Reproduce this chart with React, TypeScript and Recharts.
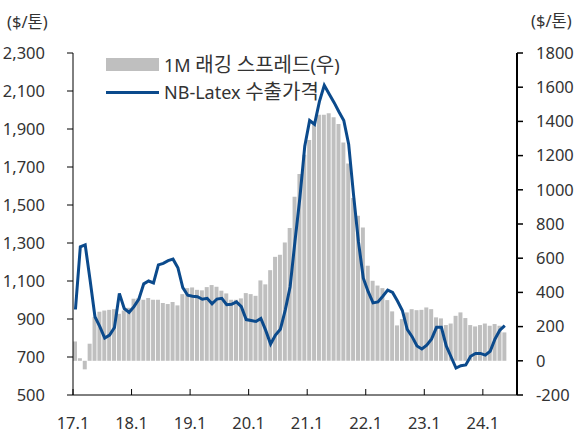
import React from 'react';
import { ComposedChart, Bar, Line, XAxis, YAxis } from 'recharts';

// 2017.01 ~ 2024.05 monthly
const months: string[] = (() => {
  const out: string[] = [];
  for (let y = 17; y <= 24; y++) {
    for (let m = 1; m <= 12; m++) {
      if (y === 24 && m > 5) break;
      out.push(`${y}.${m}`);
    }
  }
  return out;
})();

// 1M lagging spread (right axis, $/톤)
const spread: number[] = [
  113, 15, -50, 100, 255, 287, 294, 298, 302, 275, 294, 310,
  363, 367, 357, 367, 357, 357, 338, 332, 344, 324, 390, 425,
  429, 415, 412, 431, 443, 433, 410, 394, 357, 357, 365, 396,
  390, 380, 470, 447, 530, 608, 620, 692, 777, 959, 1092, 1205,
  1291, 1385, 1439, 1439, 1447, 1424, 1385, 1277, 1154, 952, 848, 780,
  556, 468, 440, 425, 355, 289, 207, 244, 283, 302, 296, 298,
  312, 302, 254, 248, 209, 218, 263, 283, 250, 209, 201, 209,
  218, 205, 215, 205, 166,
];

// NB-Latex export price (left axis, $/톤)
const price: number[] = [
  950, 1280, 1290, 1105, 912, 860, 800, 815, 855, 1035, 955, 935,
  965, 1005, 1085, 1100, 1090, 1185, 1193, 1207, 1215, 1170, 1065, 1025,
  1020, 1017, 1004, 1009, 980, 1005, 1009, 975, 977, 990, 965, 897,
  892, 887, 903, 840, 768, 815, 846, 947, 1070, 1310, 1538, 1810,
  1945, 1925, 2044, 2130, 2084, 2040, 1991, 1945, 1820, 1553, 1307, 1115,
  1044, 985, 990, 1020, 1052, 1040, 995, 945, 845, 807, 758, 742,
  762, 795, 856, 856, 758, 700, 642, 654, 658, 704, 719, 719,
  710, 730, 795, 842, 865,
];

const xTickLabels: string[] = ['17.1', '18.1', '19.1', '20.1', '21.1', '22.1', '23.1', '24.1'];
const xTickPositions: number[] = [0, 12, 24, 36, 48, 60, 72, 84];
const leftTicks: number[] = [500, 700, 900, 1100, 1300, 1500, 1700, 1900, 2100, 2300];
const rightTicks: number[] = [-200, 0, 200, 400, 600, 800, 1000, 1200, 1400, 1600, 1800];

const seriesNames = { spread: '1M 래깅 스프레드(우)', price: 'NB-Latex 수출가격' };
const unitLabel = '($/톤)';

const data = months.map((m, i) => ({ month: m, x: i + 0.5, spread: spread[i], price: price[i] }));

const FONT = "'Noto Sans', 'Noto Sans CJK KR', sans-serif";
const TEXT = '#333333';
const BAR = '#BFBFBF';
const LINE = '#0B4A8C';

// Render Hangul runs slightly larger (the original font's Hangul is wider than its Latin)
const MixedText = ({ text, latin, hangul }: { text: string; latin: number; hangul: number }) => {
  const runs: { s: string; h: boolean }[] = [];
  for (const ch of text) {
    const h = /[\uAC00-\uD7A3]/.test(ch);
    if (runs.length && runs[runs.length - 1].h === h) runs[runs.length - 1].s += ch;
    else runs.push({ s: ch, h });
  }
  return (
    <>
      {runs.map((r, i) => (
        <span key={i} style={{ fontSize: r.h ? hangul : latin }}>{r.s}</span>
      ))}
    </>
  );
};

const XTick = (props: any) => {
  const { x, y, payload } = props;
  const idx = xTickPositions.indexOf(payload.value);
  return (
    <g>
      <line x1={x} x2={x} y1={y} y2={y - 6} stroke="#000" strokeWidth={1} />
      <text x={x} y={y + 28} dy="0.35em" textAnchor="middle" fill={TEXT} fontSize={16.5} fontFamily={FONT}>
        {idx >= 0 ? xTickLabels[idx] : ''}
      </text>
    </g>
  );
};

export default function App() {
  return (
    <div style={{ position: 'absolute', left: 0, top: 0, width: 587, height: 437, fontFamily: FONT }}>
      <ComposedChart
        width={587}
        height={437}
        data={data}
        margin={{ top: 53, right: 0, bottom: 0, left: 0 }}
        style={{ overflow: 'visible' }}
      >
        <XAxis
          type="number"
          dataKey="x"
          domain={[0, 91]}
          ticks={xTickPositions}
          interval={0}
          height={42}
          tickSize={0}
          tickMargin={0}
          tickLine={false}
          axisLine={{ stroke: '#000', strokeWidth: 1 }}
          tick={<XTick />}
        />
        <YAxis
          yAxisId="left"
          orientation="left"
          width={73}
          domain={[500, 2300]}
          ticks={leftTicks}
          interval={0}
          allowDataOverflow
          tickFormatter={(v: number) => v.toLocaleString('en-US')}
          tickSize={6}
          tickMargin={22}
          axisLine={{ stroke: '#000', strokeWidth: 1 }}
          tickLine={{ stroke: '#000', strokeWidth: 1 }}
          tick={{ fill: TEXT, fontSize: 16.5, fontFamily: FONT }}
        />
        <YAxis
          yAxisId="right"
          orientation="right"
          width={70}
          domain={[-200, 1800]}
          ticks={rightTicks}
          interval={0}
          allowDataOverflow
          tickSize={6}
          tickMargin={13}
          axisLine={{ stroke: '#000', strokeWidth: 2 }}
          tickLine={{ stroke: '#000', strokeWidth: 1.5 }}
          tick={{ fill: TEXT, fontSize: 16.5, fontFamily: FONT }}
        />
        <Bar yAxisId="right" dataKey="spread" fill={BAR} barSize={4} isAnimationActive={false} />
        <Line
          yAxisId="left"
          type="linear"
          dataKey="price"
          stroke={LINE}
          strokeWidth={3}
          dot={false}
          isAnimationActive={false}
        />
      </ComposedChart>
      <div style={{ position: 'absolute', left: 7, top: 9, fontSize: 16.5, color: TEXT, whiteSpace: 'nowrap' }}>{unitLabel}</div>
      <div style={{ position: 'absolute', left: 531, top: 8, fontSize: 16.5, color: TEXT, whiteSpace: 'nowrap' }}>{unitLabel}</div>
      <div style={{ position: 'absolute', left: 106, top: 57.5, width: 53, height: 13, background: BAR }} />
      <div style={{ position: 'absolute', left: 106, top: 90.5, width: 53, height: 3, background: LINE }} />
      <div style={{ position: 'absolute', left: 164, top: 52, lineHeight: '26px', color: TEXT, whiteSpace: 'nowrap' }}>
        <MixedText text={seriesNames.spread} latin={18} hangul={20} />
      </div>
      <div style={{ position: 'absolute', left: 164, top: 79, lineHeight: '26px', color: TEXT, whiteSpace: 'nowrap' }}>
        <MixedText text={seriesNames.price} latin={18} hangul={20} />
      </div>
    </div>
  );
}
